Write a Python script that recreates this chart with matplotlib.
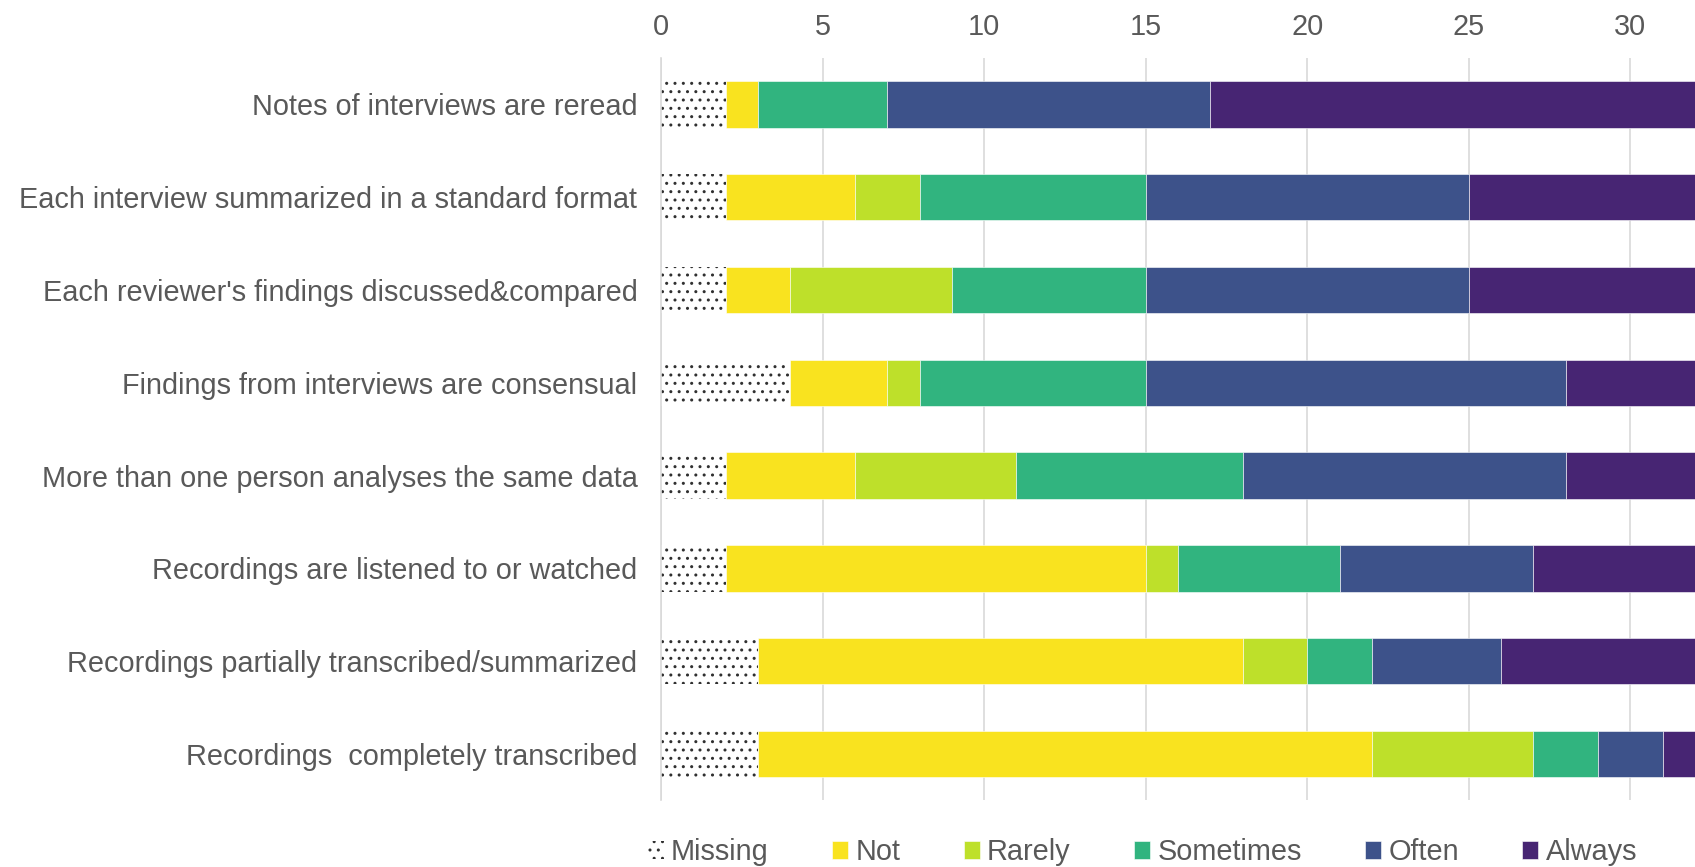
import matplotlib
matplotlib.use('Agg')
import matplotlib.pyplot as plt
import numpy as np

plt.rcParams['font.family'] = ['Liberation Sans', 'DejaVu Sans']

# survey items, top to bottom
items = ['Notes of interviews are reread',
         'Each interview summarized in a standard format',
         "Each reviewer's findings discussed&compared",
         'Findings from interviews are consensual',
         'More than one person analyses the same data',
         'Recordings are listened to or watched',
         'Recordings partially transcribed/summarized',
         'Recordings  completely transcribed']

categories = ['Missing', 'Not', 'Rarely', 'Sometimes', 'Often', 'Always']

missing = [2, 2, 2, 4, 2, 2, 3, 3]
never = [1, 4, 2, 3, 4, 13, 15, 19]
rarely = [0, 2, 5, 1, 5, 1, 2, 5]
sometimes = [4, 7, 6, 7, 7, 5, 2, 2]
often = [10, 10, 10, 13, 10, 6, 4, 2]
always = [17, 9, 9, 6, 6, 7, 8, 3]

series = [missing, never, rarely, sometimes, often, always]
colors = ['white', '#F9E31F', '#BEE02A', '#31B47F', '#3D528A', '#472573']

txt = '#595959'
fs = 20.8

fig = plt.figure(figsize=(16.95, 8.67), dpi=100)
ax = fig.add_axes([0.39, 0.077, 0.61, 0.856])

y = np.arange(len(items))
left = np.zeros(len(items))
handles = []
for name, vals, col in zip(categories, series, colors):
    vals = np.array(vals, dtype=float)
    if name == 'Missing':
        b = ax.barh(y, vals, left=left, height=0.5, color=col,
                    edgecolor='#303030', linewidth=0, hatch='..', label=name)
    else:
        b = ax.barh(y, vals, left=left, height=0.5, color=col,
                    edgecolor='white', linewidth=0.4, label=name)
    handles.append(b)
    left += vals

ax.set_ylim(len(items) - 0.5, -0.5)
ax.set_xlim(0, 32)
ax.set_xticks(range(0, 31, 5))
ax.set_yticks(y)
ax.set_yticklabels(items)

ax.xaxis.tick_top()
ax.tick_params(axis='x', length=0, labelsize=fs, colors=txt, pad=12)
ax.tick_params(axis='y', length=0, labelsize=fs, colors=txt, pad=17)
ax.grid(axis='x', color='#D9D9D9', linewidth=1.2)
ax.set_axisbelow(True)
for s in ['top', 'right', 'bottom']:
    ax.spines[s].set_visible(False)
ax.spines['left'].set_color('#D9D9D9')
ax.spines['left'].set_linewidth(1.2)

leg = fig.legend(handles=handles, labels=categories, loc='lower center',
                 bbox_to_anchor=(0.674, -0.029), ncol=6, frameon=False,
                 fontsize=fs, handlelength=0.55, handleheight=0.55,
                 handletextpad=0.25, columnspacing=2.2)
for t in leg.get_texts():
    t.set_color(txt)

fig.savefig('out.png', dpi=100)
